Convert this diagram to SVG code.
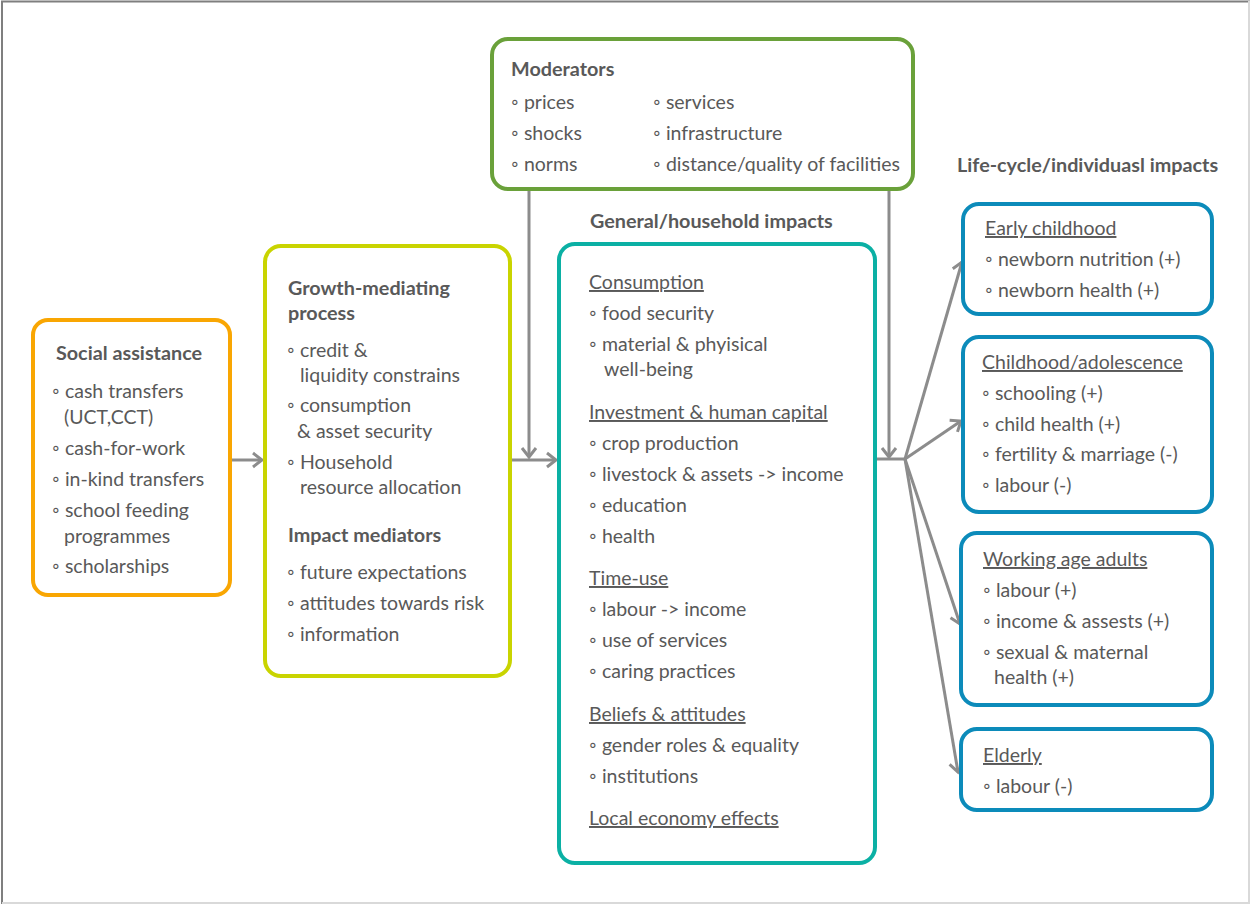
<svg xmlns="http://www.w3.org/2000/svg" width="1250" height="904" viewBox="0 0 1250 904">
<defs>
<style>
text{font-family:Lato,"Liberation Sans",sans-serif;font-size:19.5px;fill:#595959}
.b{font-weight:bold;font-size:19.8px}
.u{text-decoration:underline}
.box{fill:#fff;stroke-width:4}
.con{stroke:#8c8c8c;stroke-width:3;fill:none}
</style>
<marker id="ah" markerUnits="userSpaceOnUse" markerWidth="20" markerHeight="20" viewBox="-12 -10 14 20" refX="0" refY="0" orient="auto">
<path d="M-9,-7 L0,0 L-9,7" fill="none" stroke="#8c8c8c" stroke-width="3"/>
</marker>
</defs>
<rect x="0" y="0" width="1250" height="904" fill="#fff"/>
<path d="M2,904 V1.5 H1250" fill="none" stroke="#7f7f7f" stroke-width="2"/>
<path d="M1249,1 V903 H2" fill="none" stroke="#d9d9d9" stroke-width="2"/>

<g id="connectors">
<line class="con" x1="231" y1="460" x2="262" y2="460" marker-end="url(#ah)"/>
<line class="con" x1="511" y1="460" x2="556" y2="460" marker-end="url(#ah)"/>
<line class="con" x1="529" y1="190" x2="529" y2="457" marker-end="url(#ah)"/>
<line class="con" x1="889" y1="190" x2="889" y2="457" marker-end="url(#ah)"/>
<line class="con" x1="876" y1="459" x2="905" y2="459"/>
<line class="con" x1="905" y1="459" x2="962" y2="262" marker-end="url(#ah)"/>
<line class="con" x1="905" y1="459" x2="961" y2="421" marker-end="url(#ah)"/>
<line class="con" x1="905" y1="459" x2="960" y2="624" marker-end="url(#ah)"/>
<line class="con" x1="905" y1="459" x2="958" y2="772" marker-end="url(#ah)"/>
</g>

<g id="social">
<rect class="box" x="33" y="320" width="197" height="275" rx="15" stroke="#F9A602"/>
<text class="b" x="129" y="360" text-anchor="middle">Social assistance</text>
<text x="52" y="398">◦ cash transfers</text>
<text x="64" y="424">(UCT,CCT)</text>
<text x="52" y="455">◦ cash-for-work</text>
<text x="52" y="486">◦ in-kind transfers</text>
<text x="52" y="517">◦ school feeding</text>
<text x="64" y="543">programmes</text>
<text x="52" y="573">◦ scholarships</text>
</g>

<g id="growth">
<rect class="box" x="265" y="246" width="245" height="430" rx="16" stroke="#C9D400"/>
<text class="b" x="288" y="295">Growth-mediating</text>
<text class="b" x="288" y="320">process</text>
<text x="287" y="357">◦ credit &amp;</text>
<text x="300" y="382">liquidity constrains</text>
<text x="287" y="412">◦ consumption</text>
<text x="297" y="438">&amp; asset security</text>
<text x="287" y="469">◦ Household</text>
<text x="300" y="494">resource allocation</text>
<text class="b" x="288" y="542">Impact mediators</text>
<text x="287" y="579">◦ future expectations</text>
<text x="287" y="610">◦ attitudes towards risk</text>
<text x="287" y="641">◦ information</text>
</g>

<g id="moderators">
<rect class="box" x="492" y="39" width="421" height="150" rx="16" stroke="#6AA13A"/>
<text class="b" x="511" y="76">Moderators</text>
<text x="511" y="109">◦ prices</text>
<text x="511" y="140">◦ shocks</text>
<text x="511" y="171">◦ norms</text>
<text x="653" y="109">◦ services</text>
<text x="653" y="140">◦ infrastructure</text>
<text x="653" y="171">◦ distance/quality of facilities</text>
</g>

<g id="general">
<text class="b" x="590" y="228">General/household impacts</text>
<rect class="box" x="559" y="244" width="316" height="619" rx="16" stroke="#0BB0A4"/>
<text class="u" x="589" y="289">Consumption</text>
<text x="589" y="320">◦ food security</text>
<text x="589" y="351">◦ material &amp; phyisical</text>
<text x="604" y="376">well-being</text>
<text class="u" x="589" y="419">Investment &amp; human capital</text>
<text x="589" y="450">◦ crop production</text>
<text x="589" y="481">◦ livestock &amp; assets -&gt; income</text>
<text x="589" y="512">◦ education</text>
<text x="589" y="543">◦ health</text>
<text class="u" x="589" y="585">Time-use</text>
<text x="589" y="616">◦ labour -&gt; income</text>
<text x="589" y="647">◦ use of services</text>
<text x="589" y="678">◦ caring practices</text>
<text class="u" x="589" y="721">Beliefs &amp; attitudes</text>
<text x="589" y="752">◦ gender roles &amp; equality</text>
<text x="589" y="783">◦ institutions</text>
<text class="u" x="589" y="825">Local economy effects</text>
</g>

<text class="b" x="957" y="172">Life-cycle/individuasl impacts</text>

<g id="early">
<rect class="box" x="963" y="204" width="249" height="110" rx="16" stroke="#0C8BBA"/>
<text class="u" x="985" y="235">Early childhood</text>
<text x="985" y="266">◦ newborn nutrition (+)</text>
<text x="985" y="297">◦ newborn health (+)</text>
</g>

<g id="childhood">
<rect class="box" x="963" y="337" width="249" height="175" rx="16" stroke="#0C8BBA"/>
<text class="u" x="982" y="369">Childhood/adolescence</text>
<text x="982" y="400">◦ schooling (+)</text>
<text x="982" y="431">◦ child health (+)</text>
<text x="982" y="461">◦ fertility &amp; marriage (-)</text>
<text x="982" y="492">◦ labour (-)</text>
</g>

<g id="working">
<rect class="box" x="961" y="533" width="251" height="172" rx="16" stroke="#0C8BBA"/>
<text class="u" x="983" y="566">Working age adults</text>
<text x="983" y="597">◦ labour (+)</text>
<text x="983" y="628">◦ income &amp; assests (+)</text>
<text x="983" y="659">◦ sexual &amp; maternal</text>
<text x="994" y="684">health (+)</text>
</g>

<g id="elderly">
<rect class="box" x="961" y="729" width="251" height="81" rx="16" stroke="#0C8BBA"/>
<text class="u" x="983" y="762">Elderly</text>
<text x="983" y="793">◦ labour (-)</text>
</g>
</svg>
